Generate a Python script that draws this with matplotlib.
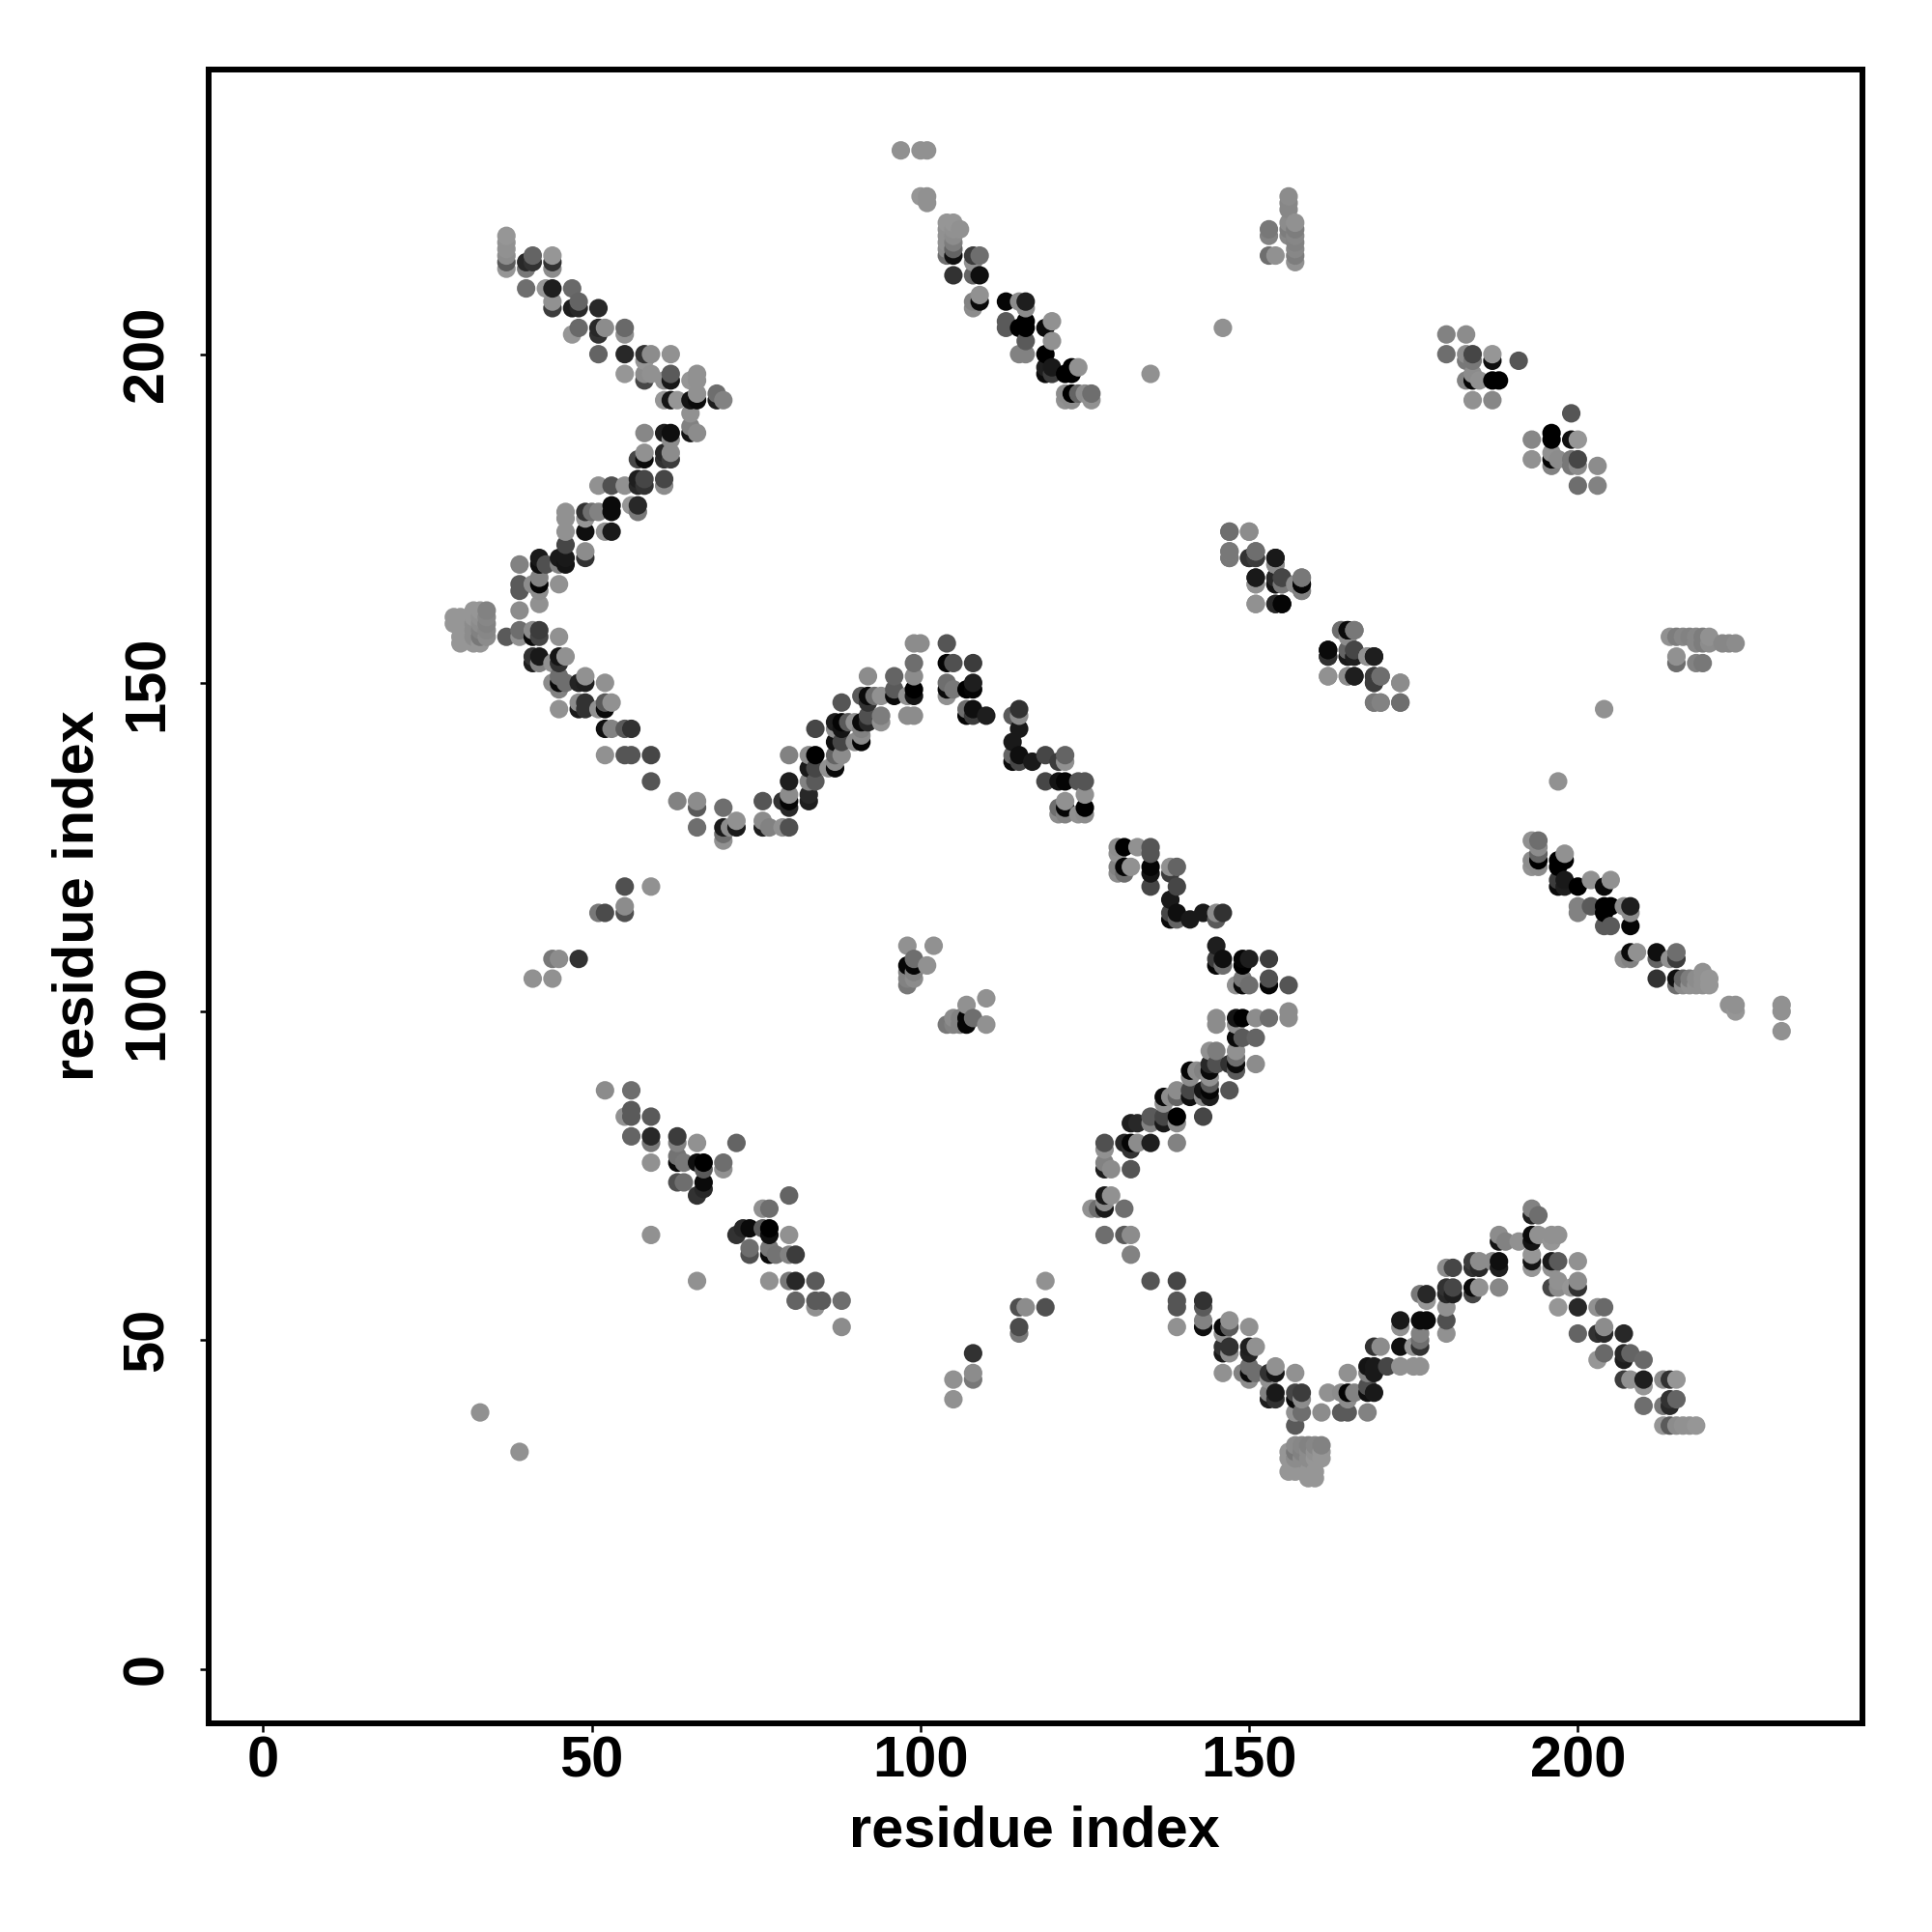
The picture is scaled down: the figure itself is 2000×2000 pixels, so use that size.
import matplotlib
matplotlib.use("Agg")
import matplotlib.pyplot as plt

# contacts (i, j, grey level 0-255), upper triangle j > i; map is symmetric
arm_top = [
 (37,213,150),(37,214,90),(37,215,140),(37,216,145),(37,217,145),(37,218,150),
 (40,213,120),(40,214,40),(41,214,50),(41,215,100),(44,213,140),(44,214,50),(44,215,150),
 (40,210,110),(43,210,150),(44,210,30),(47,210,105),(44,207,60),(44,208,145),
 (47,207,30),(48,207,40),(48,208,100),(51,207,40),(48,204,105),(47,203,150),
 (51,203,50),(51,204,40),(52,204,140),(55,203,145),(55,204,105),
 (51,200,100),(55,200,40),(58,199,150),(58,200,50),(59,200,140),(62,200,145),
 (55,197,150),(58,196,70),(58,197,140),(59,197,145),(61,196,145),(62,196,25),(62,197,90),
 (65,196,150),(66,196,145),(66,197,145),
 (61,193,150),(62,193,20),(63,193,150),(65,193,20),(66,193,10),(66,194,145),
 (69,193,30),(69,194,110),(70,193,130),(65,191,145),(65,189,130),
 (58,188,135),(61,188,30),(62,187,140),(62,188,15),(65,188,20),(66,188,140),
 (57,184,70),(58,184,10),(58,185,145),(61,184,50),(61,185,40),(62,184,60),(62,185,140),
]
arm_middle = [
 (51,180,145),(53,180,80),(55,180,145),(57,180,40),(57,181,30),(58,180,50),(58,181,70),
 (61,180,140),(61,181,70),(53,176,10),(53,177,10),(49,176,50),(46,176,145),(51,176,130),
 (50,176,110),(56,177,150),(57,176,120),(57,177,40),
 (46,175,145),(49,175,150),(46,173,145),(49,173,15),(52,173,145),(53,173,25),
 (46,171,70),(49,169,50),(49,170,140),(45,168,130),(45,169,25),(46,168,20),(46,169,25),
 (42,168,15),(42,169,25),(43,168,80),(39,168,130),(39,164,90),(39,165,90),
 (41,165,140),(42,164,140),(42,165,5),(42,166,130),(45,165,145),(42,162,145),(39,161,140),
]
blob_left = [
 (29,159,150),(29,160,150),(30,156,150),(30,157,150),(30,159,150),(30,160,150),
 (32,156,150),(32,157,140),(32,158,140),(32,159,140),(32,160,150),(32,161,150),
 (33,156,150),(33,157,120),(33,158,130),(33,159,140),(33,160,145),(33,161,150),
 (34,157,140),(34,158,135),(34,159,130),(34,160,135),(34,161,130),
]
arm_lower = [
 (37,157,90),(39,157,145),(39,158,110),(41,157,10),(41,158,140),(42,157,70),(42,158,60),(45,157,145),
 (41,153,30),(41,154,50),(42,153,130),(42,154,25),(44,153,145),(45,153,50),(45,154,20),(46,154,145),
 (44,150,140),(45,149,130),(45,150,10),(45,151,110),(46,150,110),(48,150,35),(49,150,30),(49,151,145),(52,150,145),
 (45,146,145),(48,146,25),(48,147,140),(49,146,50),(49,147,50),(51,146,145),(52,146,10),(52,147,90),(53,147,145),
 (52,143,15),(53,143,130),(55,143,90),(56,143,50),(52,139,145),(55,139,85),(56,139,85),(59,139,70),(59,135,85),
 (63,132,130),(66,131,90),(66,132,140),(70,131,110),
]
hill_rise = [
 (66,128,110),(70,126,145),(70,127,110),(70,128,25),(71,128,140),(72,128,25),(72,129,145),
 (76,128,30),(76,129,140),(76,132,85),(77,128,130),(79,128,145),(79,132,50),
 (80,128,80),(80,131,40),(80,132,5),(80,133,140),(80,135,30),(80,139,130),
 (83,132,30),(83,133,40),(83,135,130),(83,137,25),(83,139,140),(84,135,90),(84,137,70),(84,139,0),(84,143,70),
 (86,137,145),(87,137,10),(87,138,140),(87,139,100),(87,141,15),(87,143,140),(87,144,30),
 (88,139,140),(88,141,70),(88,143,20),(88,144,5),(88,147,85),(89,144,90),(90,141,140),(90,144,145),
 (91,141,5),(91,142,140),(91,143,130),(91,144,10),(91,148,90),(92,144,40),(92,145,80),(92,147,50),(92,148,10),(92,151,140),
 (93,148,110),(94,144,145),(94,145,125),(94,148,145),(96,148,10),(96,149,90),(96,151,100),
 (98,145,140),(98,148,145),(99,145,140),(99,148,20),(99,149,0),(99,151,140),(99,153,110),(99,156,140),(100,156,140),
]
hill_fall = [
 (104,148,145),(104,149,10),(104,150,110),(104,153,5),(104,156,85),(105,149,120),(105,153,80),
 (107,145,5),(107,146,110),(107,149,0),(108,145,60),(108,146,15),(108,149,5),(108,150,30),(108,153,60),(110,145,30),
 (114,138,10),(114,139,100),(114,141,25),(114,145,90),(115,138,70),(115,139,15),(115,143,25),(115,145,140),(115,146,50),
 (117,138,25),(119,135,70),(119,139,70),(121,130,140),(121,131,110),(121,135,20),(121,138,60),
 (122,130,130),(122,131,5),(122,132,145),(122,135,5),(122,138,145),(122,139,100),
 (124,130,145),(124,135,85),(125,130,140),(125,131,0),(125,133,145),(125,135,85),
]
top_band = [
 (97,231,145),(100,231,145),(101,231,145),(100,224,150),(101,223,145),(101,224,145),
 (104,215,110),(104,216,140),(104,217,145),(104,218,145),(104,219,145),(104,220,150),
 (105,212,50),(105,215,15),(105,216,100),(105,217,125),(105,218,140),(105,219,145),(105,220,150),(106,219,145),
 (108,212,100),(108,214,145),(108,215,60),(109,212,15),(109,215,110),
 (108,207,140),(108,208,130),(109,208,10),(109,209,145),
 (113,204,90),(113,205,90),(113,208,5),(115,200,130),(115,204,0),(115,208,140),
 (116,200,130),(116,202,90),(116,204,0),(116,205,0),(116,207,140),(116,208,30),
 (119,197,10),(119,198,30),(119,200,0),(119,204,10),(120,197,60),(120,198,25),(120,202,145),(120,205,145),
 (122,193,145),(122,194,140),(122,197,0),(123,193,140),(123,194,0),(123,197,0),(123,198,0),(124,194,100),(124,198,145),
 (125,194,140),(126,193,145),(126,194,110),
]
lone_contacts = [(33,39,145),(135,197,145),(146,204,145),(59,66,145)]
column_153 = [
 (153,215,110),(153,218,130),(153,219,120),(154,215,145),
 (156,218,135),(156,219,125),(156,220,140),(156,222,135),(156,223,135),(156,224,140),
 (157,214,145),(157,215,125),(157,216,135),(157,217,130),(157,218,135),(157,219,125),(157,220,145),
]
cluster_180 = [
 (180,200,110),(180,203,130),(183,196,130),(183,199,120),(183,200,140),(183,203,140),
 (184,193,145),(184,196,5),(184,197,140),(184,199,120),(184,200,70),(185,196,145),
 (187,193,135),(187,196,0),(187,199,15),(187,200,150),(188,196,0),(191,199,85),
]
cluster_147 = [
 (147,169,120),(147,170,130),(147,173,110),(150,169,60),(150,173,140),(151,162,145),(151,165,140),(151,166,30),
 (151,169,60),(151,170,110),(154,162,50),(154,165,25),(154,166,30),(154,168,145),(154,169,30),
 (155,162,10),(155,165,100),(155,166,70),(157,165,140),(158,164,110),(158,165,10),(158,166,120),
 (162,151,145),(162,154,40),(162,155,5),(164,158,130),(165,151,145),(165,154,20),(165,155,120),(165,158,5),
 (166,151,25),(166,154,40),(166,155,70),(166,158,120),(168,154,140),(169,147,120),(169,150,50),(169,151,60),(169,154,25),
 (170,147,120),(170,151,110),(173,147,110),(173,150,140),
]
small_groups = [
 (41,105,145),(44,105,145),(44,108,120),(45,108,140),(48,108,50),
 (51,115,120),(52,115,75),(55,115,80),(55,116,140),(55,119,80),(59,119,145),
 (98,104,120),(98,105,130),(98,106,130),(98,107,5),(98,110,145),(99,105,140),(99,106,130),(99,107,5),(99,108,110),
 (101,107,145),(102,110,145),
]
band_52 = [
 (52,88,140),(55,84,145),(56,81,100),(56,84,90),(56,85,90),(56,88,110),
 (59,77,145),(59,80,120),(59,81,40),(59,84,90),
 (63,74,80),(63,77,10),(63,78,115),(63,80,130),(63,81,60),(64,74,110),(64,77,120),
 (66,72,50),(66,77,15),(66,80,145),(67,73,40),(67,74,10),(67,76,90),(67,77,0),
 (70,76,145),(70,77,110),(72,80,100),
]

tick_values = [0, 50, 100, 150, 200]
axis_label = "residue index"

groups = [arm_top, arm_middle, blob_left, arm_lower, hill_rise, hill_fall, top_band,
          lone_contacts, column_153, cluster_180, cluster_147, small_groups, band_52]
contacts = [c for g in groups for c in g]
both = contacts + [(j, i, g) for i, j, g in contacts]
both.sort(key=lambda c: (c[0], c[1]))

plt.rcParams['font.family'] = ['Liberation Sans', 'DejaVu Sans']
plt.rcParams['font.weight'] = 'bold'
fs = 42.8
fig = plt.figure(figsize=(20, 20), dpi=100)
ax = fig.add_axes([216/2000, 1-1784/2000, 1712/2000, 1712/2000])
ax.scatter([c[0] for c in both], [c[1] for c in both],
           c=[(c[2]/255,)*3 for c in both], s=190, linewidths=0)
ax.set_xlim(-8.3, 243.3)
ax.set_ylim(-8.3, 243.3)
ax.set_xticks(tick_values)
ax.set_yticks(tick_values)
ax.tick_params(length=6.5, width=1.8, labelsize=fs, pad=2.5)
ax.tick_params(axis='y', labelrotation=90, pad=19)
for t in ax.get_yticklabels():
    t.set_va('center')
for s in ax.spines.values():
    s.set_linewidth(4.3)
fig.text(1071/2000, 1-1896/2000, axis_label, fontsize=fs, fontweight='bold', ha='center', va='center')
fig.text(81/2000, 1-927/2000, axis_label, fontsize=fs, fontweight='bold', ha='center', va='center', rotation=90)
fig.savefig("out.png", dpi=100)
